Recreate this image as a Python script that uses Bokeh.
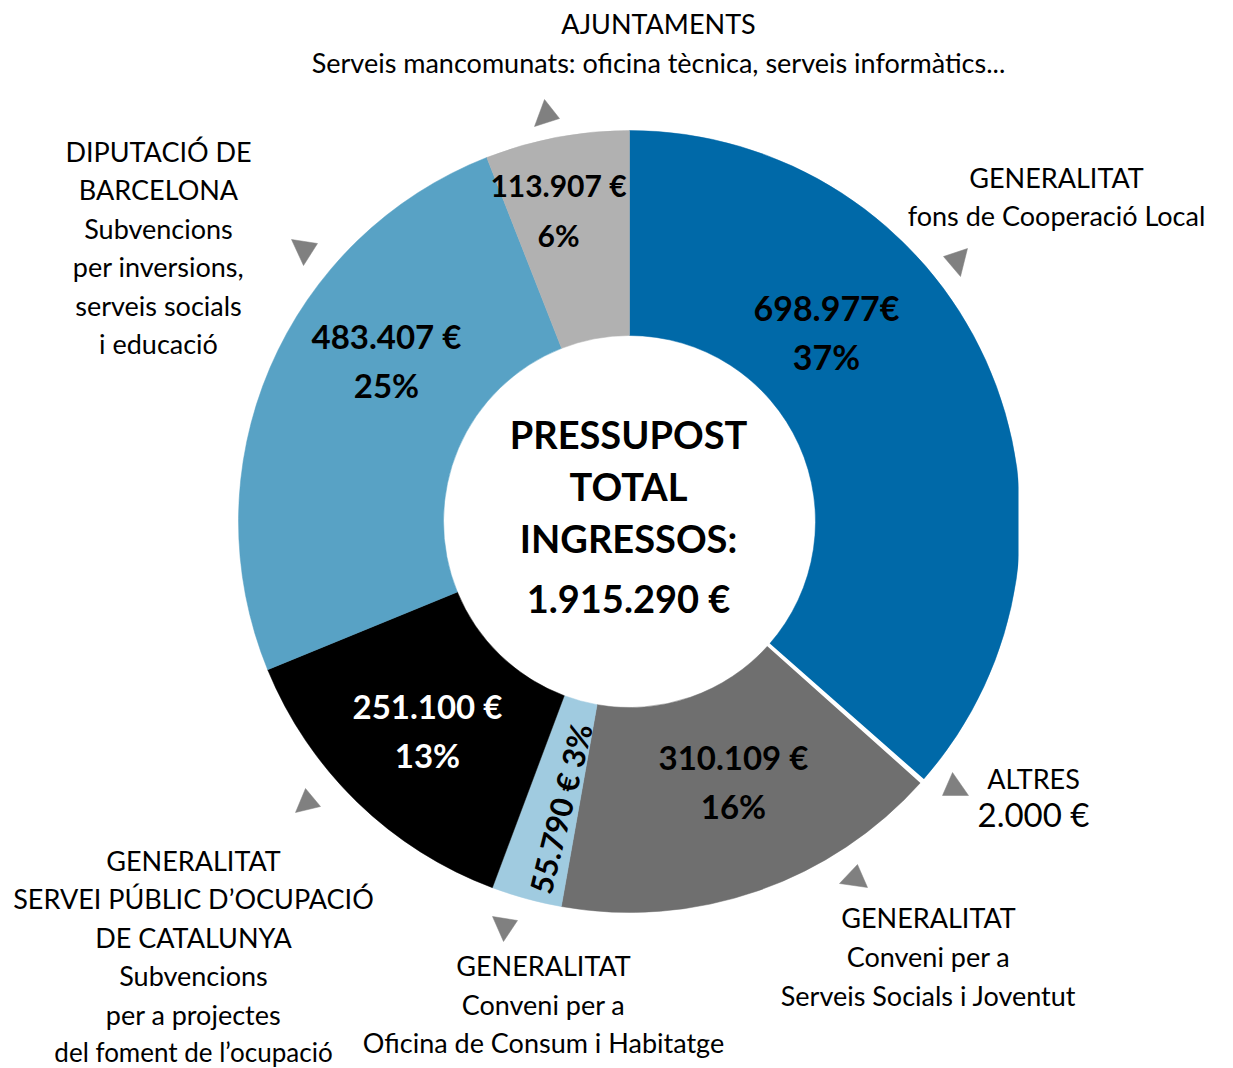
import math
from bokeh.plotting import figure
from bokeh.models import Range1d, ColumnDataSource
from bokeh.core.properties import value
from bokeh.embed import file_html
from bokeh.resources import INLINE

# ---------------- data ----------------
categories = ["Generalitat - fons de Cooperació Local", "Altres",
              "Generalitat - Serveis Socials i Joventut",
              "Generalitat - Oficina de Consum i Habitatge",
              "Generalitat - SOC", "Diputació de Barcelona", "Ajuntaments"]
amounts = [698977, 2000, 310109, 55790, 251100, 483407, 113907]
amount_labels = ["698.977€", "2.000 €", "310.109 €", "55.790 €", "251.100 €", "483.407 €", "113.907 €"]
pct_labels = ["37%", "", "16%", "3%", "13%", "25%", "6%"]
total_label = "1.915.290 €"

# ---------------- style ----------------
colors = ["#0069a8", "#ffffff", "#6f6f6f", "#a0cbe0", "#000000", "#58a2c5", "#b1b1b1"]
label_colors = ["#000000", "#000000", "#000000", "#000000", "#ffffff", "#000000", "#000000"]
FONT = "Lato"
W, H = 1233, 1068


def X(px):
    return px


def Y(py):
    return H - py


p = figure(width=W, height=H, output_backend="svg", toolbar_location=None,
           x_range=Range1d(0, W), y_range=Range1d(0, H), min_border=0)
p.axis.visible = False
p.grid.visible = False
p.outline_line_color = None
p.background_fill_color = "white"
p.border_fill_color = "white"

CX, CY = X(629), Y(521)
R_OUT, R_IN = 391, 186

total = sum(amounts)
starts, ends = [], []
acc = 0.0
for a in amounts:
    starts.append(math.pi / 2 - 2 * math.pi * acc / total)
    acc += a
    ends.append(math.pi / 2 - 2 * math.pi * acc / total)

src = ColumnDataSource(dict(start=starts, end=ends, color=colors, cat=categories))
p.annular_wedge(x=CX, y=CY, inner_radius=R_IN, outer_radius=R_OUT,
                start_angle="start", end_angle="end", direction="clock",
                fill_color="color", line_color="color", line_width=0.5, source=src)
# separator for the tiny "Altres" slice
i_alt = 1
p.annular_wedge(x=CX, y=CY, inner_radius=R_IN - 2, outer_radius=R_OUT + 2,
                start_angle=starts[i_alt], end_angle=ends[i_alt], direction="clock",
                fill_color="white", line_color="white", line_width=2.5)

# clip at right edge as in reference
p.quad(left=X(1018), right=X(1040), bottom=Y(600), top=Y(440), fill_color="white", line_color=None)

# ---------------- in-slice labels ----------------
pos = {0: (826, 307, 356, "34px"), 2: (733, 756, 805, "33px"), 4: (427, 705, 754, "33px"),
       5: (386, 335, 384, "33px"), 6: (558, 184, 234, "30px")}
for i, (lx, ly1, ly2, fs) in pos.items():
    p.text(x=[X(lx)], y=[Y(ly1)], text=[amount_labels[i]], text_align="center", text_baseline="middle",
           text_font=value(FONT), text_font_style="bold", text_font_size=fs, text_color=label_colors[i])
    p.text(x=[X(lx)], y=[Y(ly2)], text=[pct_labels[i]], text_align="center", text_baseline="middle",
           text_font=value(FONT), text_font_style="bold", text_font_size=fs, text_color=label_colors[i])

# rotated small slice label
p.text(x=[X(560)], y=[Y(808)], text=[amount_labels[3] + " " + pct_labels[3]], angle=math.radians(76),
       text_align="center", text_baseline="middle", text_font=value(FONT), text_font_style="bold",
       text_font_size="31px", text_color=label_colors[3])

# center text
center_lines = [("PRESSUPOST", 433), ("TOTAL", 485), ("INGRESSOS:", 537), (total_label, 597)]
for t, yy in center_lines:
    p.text(x=[X(628)], y=[Y(yy)], text=[t], text_align="center", text_baseline="middle",
           text_font=value(FONT), text_font_style="bold", text_font_size="38px", text_color="black")

# ---------------- outside labels ----------------
def block(lines, cx, y0, dy, size="27px"):
    for k, t in enumerate(lines):
        p.text(x=[X(cx)], y=[Y(y0 - 2 + k * dy)], text=[t], text_align="center", text_baseline="middle",
               text_font=value(FONT), text_font_size=size, text_color="black")

block(["AJUNTAMENTS", "Serveis mancomunats: oficina tècnica, serveis informàtics..."], 658, 25, 39)
block(["DIPUTACIÓ DE", "BARCELONA", "Subvencions", "per inversions,", "serveis socials", "i educació"],
      158, 153, 38.4)
block(["GENERALITAT", "fons de Cooperació Local"], 1056, 179, 38)
block(["ALTRES"], 1033, 780, 0)
block([amount_labels[1]], 1033, 815, 0, size="33px")
block(["GENERALITAT", "Conveni per a", "Serveis Socials i Joventut"], 928, 919, 39)
block(["GENERALITAT", "Conveni per a", "Oficina de Consum i Habitatge"], 543, 967, 38.5)
block(["GENERALITAT", "SERVEI PÚBLIC D’OCUPACIÓ", "DE CATALUNYA", "Subvencions", "per a projectes"],
      193, 862, 38.4)
block(["del foment de l’ocupació"], 193, 1053, 0, size="26px")

# ---------------- arrows ----------------
tris = [
    [(534, 126), (544, 99), (559, 118)],
    [(291, 239), (317, 243), (303, 265)],
    [(943, 256), (967, 248), (960, 276)],
    [(942, 795), (952, 772), (968, 795)],
    [(839, 883), (857, 864), (867, 887)],
    [(295, 812), (305, 788), (320, 806)],
    [(492, 916), (517, 920), (503, 941)],
]
p.patches(xs=[[X(a) for a, b in t] for t in tris], ys=[[Y(b) for a, b in t] for t in tris],
          fill_color="#808080", line_color="#808080", line_width=0.5)

open("out.html", "w").write(file_html(p, INLINE))
